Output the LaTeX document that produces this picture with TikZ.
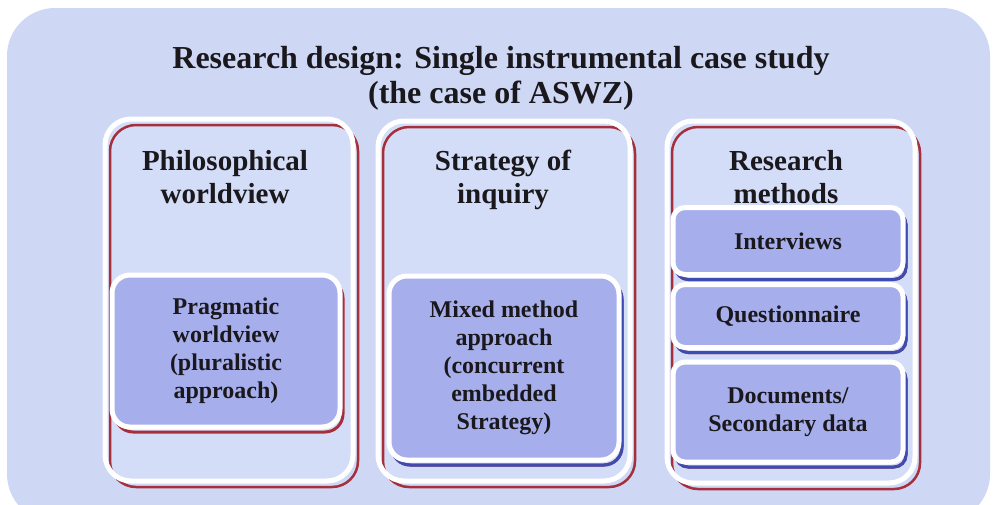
\documentclass[tikz,border=0pt]{standalone}
\usepackage{fontspec}
\setmainfont{Liberation Serif}
\usepackage{tikz}
\definecolor{pagebg}{RGB}{206,216,245}
\definecolor{panelbg}{RGB}{212,221,247}
\definecolor{boxbg}{RGB}{166,175,235}
\definecolor{shred}{RGB}{165,48,60}
\definecolor{shblue}{RGB}{62,76,178}
\definecolor{ink}{RGB}{26,24,28}
\tikzstyle{panel}=[rectangle,rounded corners=26pt,preaction={fill=panelbg},preaction={draw=shred,line width=2.5pt,transform canvas={xshift=5pt,yshift=-6pt}},draw=white,line width=5pt]
\tikzstyle{redbox}=[rectangle,rounded corners=18pt,preaction={draw=shred,line width=3pt,transform canvas={xshift=3pt,yshift=-5pt}},fill=boxbg,draw=white,line width=5pt,text=ink,align=center,font=\bfseries\fontsize{24}{28}\selectfont]
\tikzstyle{bluebox}=[redbox,preaction={draw=shblue,line width=3pt,transform canvas={xshift=3pt,yshift=-5pt}}]
\tikzstyle{head}=[anchor=north,inner sep=0pt,align=center,text=ink,font=\bfseries\fontsize{29}{33}\selectfont]

\begin{document}
\begin{tikzpicture}[x=1pt,y=-1pt]
\useasboundingbox (0,0) rectangle (994,504);
\clip (0,0) rectangle (994,504);
\fill[white] (0,0) rectangle (994,504);
\fill[pagebg, rounded corners=48pt] (7,8) rectangle (990,522);
\node[head, font=\bfseries\fontsize{32}{35}\selectfont] (title) at (501,46) {Research design: Single instrumental case study\\(the case of ASWZ)};
\node[panel, minimum width=248pt, minimum height=362pt] (phil) at (229,300) {};
\node[panel, minimum width=252pt, minimum height=360pt] (strat) at (504,301) {};
\node[panel, minimum width=248pt, minimum height=362pt] (meth) at (791,302) {};
\node[head] (philhead) at (225,150) {Philosophical\\worldview};
\node[head] (strathead) at (503,150) {Strategy of\\inquiry};
\node[head] (methhead) at (786,150) {Research\\methods};
\node[redbox, minimum width=228pt, minimum height=152pt] (prag) at (226,351) {Pragmatic\\worldview\\(pluralistic\\approach)};
\node[bluebox, minimum width=230pt, minimum height=184pt] (mixed) at (504,368) {Mixed method\\approach\\(concurrent\\embedded\\Strategy)};
\node[bluebox, rounded corners=12pt, minimum width=230pt, minimum height=67pt] (interv) at (788,241) {Interviews};
\node[bluebox, rounded corners=12pt, minimum width=230pt, minimum height=63pt] (quest) at (788,316) {Questionnaire};
\node[bluebox, rounded corners=12pt, minimum width=230pt, minimum height=100pt] (docs) at (788,412) {Documents/\\Secondary data};
\end{tikzpicture}
\end{document}
